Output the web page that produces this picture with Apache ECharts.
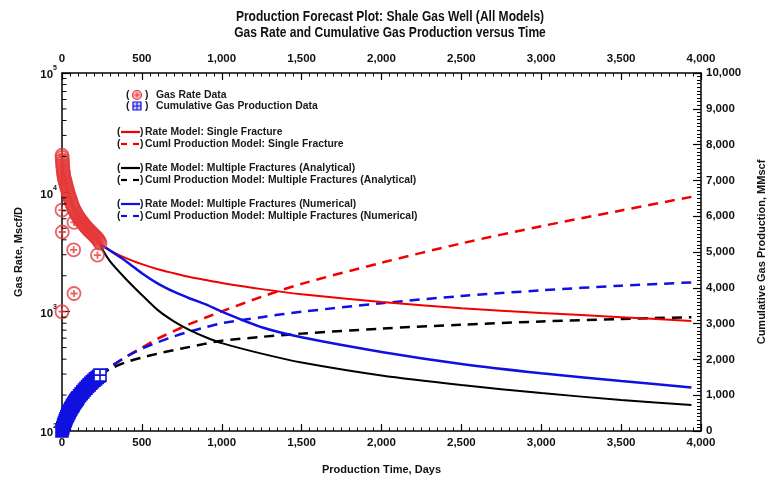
<!DOCTYPE html>
<html>
<head>
<meta charset="utf-8">
<script src="https://cdn.jsdelivr.net/npm/echarts@6/dist/echarts.min.js"></script>
<style>
  html, body { margin: 0; padding: 0; background: #fff; }
  #chart { width: 773px; height: 484px; }
</style>
</head>
<body>
<div id="chart"></div>
<script>
// ---- Measured well data ----
// Gas rate data, days vs Mscf/D (main decline trend followed by scattered low readings)
const rateDays = [0, 1, 2, 3, 4, 5, 7, 9, 11, 13, 16, 19, 22, 25, 29, 33, 37, 41, 45, 50,
  55, 60, 65, 70, 76, 82, 88, 94, 100, 106, 112, 118, 124, 130, 136, 142, 148, 154, 160, 166,
  172, 178, 184, 190, 196, 202, 208, 214, 220, 226, 232, 238,
  0, 2, 0, 75, 73, 75, 222];
const rateValues = [20500, 19600, 18700, 17800, 17000, 16200, 15300, 14600, 14000, 13400, 12900, 12500, 12000, 11600, 11100, 10600, 10200, 9700, 9300, 8900,
  8500, 8100, 7800, 7500, 7200, 6900, 6650, 6450, 6270, 6100, 5950, 5800, 5660, 5530, 5400, 5280, 5170, 5060, 4960, 4860,
  4770, 4680, 4590, 4510, 4430, 4350, 4270, 4190, 4110, 4020, 3900, 3760,
  7100, 4650, 1000, 5600, 3300, 1420, 2980];

// Cumulative gas production data, days vs MMscf
const cumDays = [0, 5, 10, 15, 20, 25, 30, 35, 40, 45, 50, 55, 60, 65, 70, 75, 80, 85, 90, 95,
  100, 110, 120, 130, 140, 150, 160, 170, 180, 190, 200, 210, 220, 230, 238];
const cumValues = [0, 87, 164, 224, 288, 342, 396, 444, 492, 535, 579, 618, 658, 695, 731, 767, 802, 834, 866, 897,
  928, 985, 1042, 1094, 1146, 1195, 1243, 1288, 1332, 1374, 1416, 1455, 1494, 1531, 1560];

// ---- Model forecasts ----
const rateModelDays = [230, 300, 400, 500, 600, 700, 800, 900, 1000, 1250, 1500, 2000, 2500, 3000, 3500, 3940];
const rateSingle = [3760, 3270, 2810, 2500, 2270, 2100, 1950, 1840, 1740, 1545, 1400, 1205, 1070, 975, 900, 835];
const rateMultiAnalytical = [3760, 2650, 1880, 1380, 1030, 830, 700, 610, 545, 445, 375, 292, 243, 208, 182, 165];
const rateMultiNumerical = [3760, 3250, 2650, 2100, 1720, 1470, 1290, 1150, 1000, 740, 610, 460, 365, 305, 262, 232];

const cumModelDays = [238, 300, 400, 500, 600, 700, 800, 900, 1000, 1250, 1500, 2000, 2500, 3000, 3500, 3940];
const cumSingle = [1560, 1770, 2070, 2330, 2580, 2790, 2990, 3170, 3340, 3750, 4110, 4700, 5240, 5720, 6160, 6540];
const cumMultiAnalytical = [1560, 1730, 1920, 2050, 2160, 2260, 2350, 2440, 2520, 2630, 2720, 2860, 2970, 3060, 3130, 3180];
const cumMultiNumerical = [1560, 1780, 2070, 2300, 2480, 2640, 2780, 2900, 3010, 3180, 3330, 3570, 3770, 3930, 4060, 4150];

// ---- Axis ticks ----
const logMinorTicks = [200, 300, 400, 500, 600, 700, 800, 900,
  2000, 3000, 4000, 5000, 6000, 7000, 8000, 9000,
  20000, 30000, 40000, 50000, 60000, 70000, 80000, 90000];

const titleLines = ['Production Forecast Plot: Shale Gas Well (All Models)',
  'Gas Rate and Cumulative Gas Production versus Time'];
const legendLabels = ['Gas Rate Data', 'Cumulative Gas Production Data',
  'Rate Model: Single Fracture', 'Cuml Production Model: Single Fracture',
  'Rate Model: Multiple Fractures (Analytical)', 'Cuml Production Model: Multiple Fractures (Analytical)',
  'Rate Model: Multiple Fractures (Numerical)', 'Cuml Production Model: Multiple Fractures (Numerical)'];

const FONT = '"Liberation Sans", Arial, Helvetica, sans-serif';
const RED = '#f00000';
const BLUE = '#1010e0';
const BLACK = '#000000';
const DOT_RED = '#e53a3a';

const zip = (xs, ys) => xs.map((x, i) => [x, ys[i]]);
const fmtThousands = v => Math.round(v).toLocaleString('en-US');

// ring with a plus inside, and a square with a cross inside
const ringPlus = 'path://M10,0A10,10,0,1,1,-10,0A10,10,0,1,1,10,0ZM-5.5,0L5.5,0M0,-5.5L0,5.5';
const squareGrid = 'path://M-10,-10L10,-10L10,10L-10,10ZM-10,0L10,0M0,-10L0,10';

const tickLabel = { color: '#111', fontFamily: FONT, fontWeight: 'bold', fontSize: 11.5 };
const axisLine = { show: true, onZero: false, lineStyle: { color: '#000', width: 1.5 } };

function xAxisDef(position, withName) {
  return {
    type: 'value', position: position, min: 0, max: 4000, interval: 500,
    axisLine: axisLine,
    axisTick: { show: true, inside: true, length: 7, lineStyle: { color: '#000', width: 1.2 } },
    minorTick: { show: true, splitNumber: 10, length: 3.5, lineStyle: { color: '#000', width: 1 } },
    splitLine: { show: false },
    axisLabel: Object.assign({ margin: position === 'top' ? 8 : 6, formatter: fmtThousands }, tickLabel),
    name: withName ? 'Production Time, Days' : '',
    nameLocation: 'middle', nameGap: 33,
    nameTextStyle: { fontFamily: FONT, fontWeight: 'bold', fontSize: 11, color: '#111' }
  };
}

const chart = echarts.init(document.getElementById('chart'), null, { renderer: 'canvas' });

// legend rows: symbol kind, colour, vertical position
const legendRows = [
  { kind: 'ring', color: DOT_RED, y: 95 },
  { kind: 'square', color: BLUE, y: 106 },
  { kind: 'solid', color: RED, y: 132 },
  { kind: 'dash', color: RED, y: 144 },
  { kind: 'solid', color: BLACK, y: 168 },
  { kind: 'dash', color: BLACK, y: 180 },
  { kind: 'solid', color: BLUE, y: 204 },
  { kind: 'dash', color: BLUE, y: 216 }
];

function legendGraphics() {
  const els = [];
  const txt = (x, y, s) => ({ type: 'text', x: x, y: y, style: { text: s, font: 'bold 10.4px ' + FONT, fill: '#1a1a1a', textVerticalAlign: 'middle', verticalAlign: 'middle' } });
  legendRows.forEach((r, i) => {
    const isData = r.kind === 'ring' || r.kind === 'square';
    const lx = isData ? 126 : 117;
    els.push(txt(lx, r.y, '('));
    if (r.kind === 'ring') {
      els.push({ type: 'circle', shape: { cx: 137, cy: r.y, r: 4.5 }, style: { fill: '#f7b0b0', stroke: r.color, lineWidth: 1.2 } });
      els.push({ type: 'line', shape: { x1: 134.5, y1: r.y, x2: 139.5, y2: r.y }, style: { stroke: r.color, lineWidth: 1 } });
      els.push({ type: 'line', shape: { x1: 137, y1: r.y - 2.5, x2: 137, y2: r.y + 2.5 }, style: { stroke: r.color, lineWidth: 1 } });
    } else if (r.kind === 'square') {
      els.push({ type: 'rect', shape: { x: 133, y: r.y - 4, width: 8, height: 8 }, style: { fill: '#c9c9f5', stroke: r.color, lineWidth: 1.2 } });
      els.push({ type: 'line', shape: { x1: 133, y1: r.y, x2: 141, y2: r.y }, style: { stroke: r.color, lineWidth: 1 } });
      els.push({ type: 'line', shape: { x1: 137, y1: r.y - 4, x2: 137, y2: r.y + 4 }, style: { stroke: r.color, lineWidth: 1 } });
    } else if (r.kind === 'solid') {
      els.push({ type: 'line', shape: { x1: 121, y1: r.y, x2: 140, y2: r.y }, style: { stroke: r.color, lineWidth: 2.2 } });
    } else {
      els.push({ type: 'line', shape: { x1: 121, y1: r.y, x2: 127, y2: r.y }, style: { stroke: r.color, lineWidth: 2.2 } });
      els.push({ type: 'line', shape: { x1: 133, y1: r.y, x2: 139, y2: r.y }, style: { stroke: r.color, lineWidth: 2.2 } });
    }
    els.push(txt(isData ? 145 : 140, r.y, ')'));
    els.push(txt(isData ? 156 : 145, r.y, legendLabels[i]));
  });
  return els;
}

const cumPoints = zip(cumDays, cumValues).map((p, i, arr) => (
  i === arr.length - 1 ? { value: p, itemStyle: { color: '#ffffff' } } : p
));

const option = {
  backgroundColor: '#ffffff',
  animation: false,
  grid: { left: 62, right: 72, top: 73, bottom: 53, containLabel: false },
  graphic: [
    {
      type: 'group', x: 390, y: 17, scaleX: 0.86,
      children: titleLines.map((t, i) => ({
        type: 'text', x: 0, y: i * 16.5,
        style: { text: t, font: 'bold 14px ' + FONT, fill: '#111', align: 'center', textAlign: 'center', verticalAlign: 'middle', textVerticalAlign: 'middle' }
      }))
    },
    {
      type: 'text', x: 762, y: 252, rotation: Math.PI / 2,
      style: { text: 'Cumulative Gas Production, MMscf', font: 'bold 11px ' + FONT, fill: '#111', align: 'center', textAlign: 'center', verticalAlign: 'middle', textVerticalAlign: 'middle' }
    },
    { type: 'group', children: legendGraphics() }
  ],
  xAxis: [xAxisDef('bottom', true), xAxisDef('top', false)],
  yAxis: [
    {
      type: 'log', logBase: 10, position: 'left', min: 100, max: 100000, splitNumber: 3,
      axisLine: axisLine,
      axisTick: { show: true, inside: true, length: 8, lineStyle: { color: '#000', width: 1.2 } },
      minorTick: { show: false },
      splitLine: { show: false },
      axisLabel: {
        margin: 5,
        formatter: v => '{b|10}{s|' + Math.round(Math.log10(v)) + '}',
        rich: {
          b: { fontFamily: FONT, fontWeight: 'bold', fontSize: 11.5, color: '#111', lineHeight: 16, verticalAlign: 'bottom' },
          s: { fontFamily: FONT, fontWeight: 'bold', fontSize: 7, color: '#111', lineHeight: 9, verticalAlign: 'top' }
        }
      },
      name: 'Gas Rate, Mscf/D', nameLocation: 'middle', nameGap: 38, nameRotate: 90,
      nameTextStyle: { fontFamily: FONT, fontWeight: 'bold', fontSize: 11, color: '#111' }
    },
    {
      type: 'value', position: 'right', min: 0, max: 10000, interval: 1000,
      axisLine: axisLine,
      axisTick: { show: true, inside: true, length: 8, lineStyle: { color: '#000', width: 1.2 } },
      minorTick: { show: true, splitNumber: 10, length: 4, lineStyle: { color: '#000', width: 1 } },
      splitLine: { show: false },
      axisLabel: Object.assign({ margin: 5, formatter: fmtThousands }, tickLabel)
    }
  ],
  series: [
    {
      // minor decade ticks on the log rate axis
      type: 'custom', xAxisIndex: 0, yAxisIndex: 0, silent: true, clip: false, z: 5,
      data: logMinorTicks.map(v => [0, v]),
      renderItem: (params, api) => {
        const p = api.coord([0, api.value(1)]);
        return { type: 'line', shape: { x1: p[0], y1: p[1], x2: p[0] + 4.5, y2: p[1] }, style: { stroke: '#000', lineWidth: 1 } };
      }
    },
    {
      name: legendLabels[3], type: 'line', xAxisIndex: 0, yAxisIndex: 1, data: zip(cumModelDays, cumSingle),
      smooth: 0.3, showSymbol: false, lineStyle: { color: RED, width: 2.5, type: [10, 7] }, z: 3
    },
    {
      name: legendLabels[5], type: 'line', xAxisIndex: 0, yAxisIndex: 1, data: zip(cumModelDays, cumMultiAnalytical),
      smooth: 0.3, showSymbol: false, lineStyle: { color: BLACK, width: 2.5, type: [10, 7] }, z: 3
    },
    {
      name: legendLabels[7], type: 'line', xAxisIndex: 0, yAxisIndex: 1, data: zip(cumModelDays, cumMultiNumerical),
      smooth: 0.3, showSymbol: false, lineStyle: { color: BLUE, width: 2.5, type: [10, 7] }, z: 3
    },
    {
      name: legendLabels[2], type: 'line', xAxisIndex: 0, yAxisIndex: 0, data: zip(rateModelDays, rateSingle),
      smooth: 0.3, showSymbol: false, lineStyle: { color: RED, width: 2 }, z: 3
    },
    {
      name: legendLabels[4], type: 'line', xAxisIndex: 0, yAxisIndex: 0, data: zip(rateModelDays, rateMultiAnalytical),
      smooth: 0.3, showSymbol: false, lineStyle: { color: BLACK, width: 2 }, z: 3
    },
    {
      name: legendLabels[6], type: 'line', xAxisIndex: 0, yAxisIndex: 0, data: zip(rateModelDays, rateMultiNumerical),
      smooth: 0.3, showSymbol: false, lineStyle: { color: BLUE, width: 2.5 }, z: 3
    },
    {
      name: legendLabels[1], type: 'scatter', xAxisIndex: 0, yAxisIndex: 1, data: cumPoints,
      symbol: squareGrid, symbolSize: 12, z: 4,
      itemStyle: { color: BLUE, borderColor: BLUE, borderWidth: 1.6, opacity: 1 }
    },
    {
      name: legendLabels[0], type: 'scatter', xAxisIndex: 0, yAxisIndex: 0, data: zip(rateDays, rateValues),
      symbol: ringPlus, symbolSize: 13, z: 4,
      itemStyle: { color: 'rgba(255,255,255,0)', borderColor: DOT_RED, borderWidth: 1.8 }
    }
  ]
};

chart.setOption(option);
</script>
</body>
</html>
